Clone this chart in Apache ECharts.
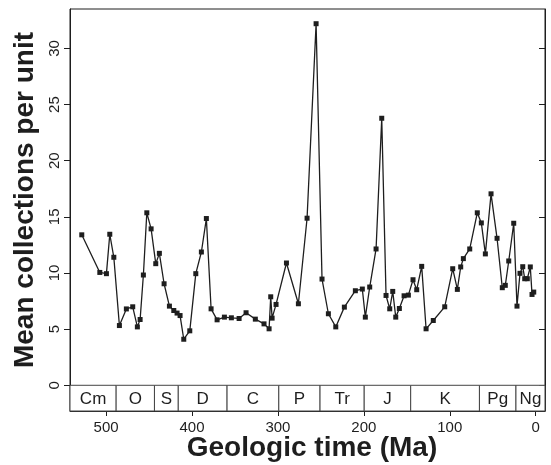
<!DOCTYPE html>
<html>
<head>
<meta charset="utf-8">
<script src="https://cdn.jsdelivr.net/npm/echarts@6/dist/echarts.min.js"></script>
<style>
  html, body { margin: 0; padding: 0; background: #fff; }
  #chart { width: 551px; height: 465px; }
</style>
</head>
<body>
<div id="chart"></div>
<script>
// age of each unit (Ma) and its mean collections
const ages = [528.3, 507.3, 499.6, 495.7, 491.0, 484.5, 476.4, 469.0, 463.6, 460.4,
  456.6, 452.6, 447.6, 442.2, 438.0, 432.5, 426.3, 421.2, 417.4, 413.9,
  409.6, 402.6, 395.6, 389.1, 383.3, 377.8, 370.8, 362.3, 354.2, 345.2,
  337.1, 326.3, 316.2, 310.3, 308.4, 306.8, 302.2, 290.1, 276.2, 266.1,
  255.6, 248.7, 241.3, 232.7, 222.7, 209.9, 201.8, 198.3, 193.2, 185.8,
  179.2, 174.2, 169.9, 166.4, 162.9, 158.7, 153.2, 148.2, 142.8, 138.5,
  132.7, 127.6, 119.2, 105.9, 96.6, 91.2, 87.3, 84.2, 76.8, 68.0,
  63.3, 58.6, 52.0, 45.0, 38.9, 35.4, 31.4, 25.6, 21.8, 18.3,
  15.1, 12.8, 9.8, 6.3, 4.3, 2.3]
const values = [13.4, 10.05, 9.94, 13.45, 11.4, 5.32, 6.8, 6.99, 5.2, 5.86,
  9.82, 15.36, 13.93, 10.83, 11.75, 9.04, 7.05, 6.66, 6.43, 6.21,
  4.1, 4.85, 9.94, 11.87, 14.85, 6.81, 5.83, 6.07, 6.01, 5.95,
  6.46, 5.89, 5.47, 5.03, 7.88, 5.98, 7.2, 10.89, 7.26, 14.88,
  32.2, 9.46, 6.37, 5.2, 6.96, 8.42, 8.57, 6.07, 8.75, 12.14,
  23.78, 8.0, 6.81, 8.36, 6.07, 6.84, 7.97, 8.03, 9.4, 8.51,
  10.59, 5.03, 5.77, 6.99, 10.38, 8.54, 10.54, 11.28, 12.14, 15.36,
  14.46, 11.7, 17.05, 13.09, 8.69, 8.9, 11.07, 14.43, 7.05, 9.97,
  10.56, 9.49, 9.49, 10.54, 8.09, 8.3]

// geologic periods along the bottom strip
const periodNames = ['Cm', 'O', 'S', 'D', 'C', 'P', 'Tr', 'J', 'K', 'Pg', 'Ng']
const periodStarts = [542, 488.3, 443.7, 416, 359.2, 299, 251, 199.6, 145.5, 65.5, 23]

const xTicks = [0, 100, 200, 300, 400, 500]
const yTicks = [0, 5, 10, 15, 20, 25, 30]

const X_MIN = -10.8, X_MAX = 542
const Y_MIN = -2.29, Y_MAX = 33.51
const periodEnds = periodStarts.slice(1).concat([X_MIN])

const FONT = '"Liberation Sans", Arial, Helvetica, sans-serif'
const INK = '#1e1e1e'

const chart = echarts.init(document.getElementById('chart'))

chart.setOption({
  animation: false,
  grid: { left: 70, right: 6, top: 9, bottom: 54, show: true, borderColor: INK, borderWidth: 1 },
  xAxis: {
    type: 'value', inverse: true, min: X_MIN, max: X_MAX,
    splitLine: { show: false },
    axisLine: { onZero: false, lineStyle: { color: INK } },
    axisTick: { customValues: xTicks, length: 5, lineStyle: { color: INK } },
    axisLabel: { customValues: xTicks, fontSize: 15, fontFamily: FONT, color: INK, margin: 9 }
  },
  yAxis: [
    {
      type: 'value', position: 'left', min: Y_MIN, max: Y_MAX,
      splitLine: { show: false },
      axisLine: { show: true, onZero: false, lineStyle: { color: INK } },
      axisTick: { show: true, customValues: yTicks, length: 6, lineStyle: { color: INK } },
      axisLabel: { customValues: yTicks, rotate: 90, fontSize: 15, fontFamily: FONT, color: INK, margin: 8 }
    },
    {
      type: 'value', position: 'right', min: Y_MIN, max: Y_MAX,
      splitLine: { show: false },
      axisLine: { show: true, onZero: false, lineStyle: { color: INK } },
      axisTick: { show: true, inside: true, customValues: yTicks, length: 6, lineStyle: { color: INK } },
      axisLabel: { show: false }
    }
  ],
  series: [
    {
      type: 'custom',
      data: periodStarts.map((s, i) => [s, periodEnds[i]]),
      renderItem: (params, api) => {
        const p0 = api.coord([api.value(0), 0])
        const p1 = api.coord([api.value(1), Y_MIN])
        const x = Math.min(p0[0], p1[0])
        const w = Math.abs(p1[0] - p0[0])
        return {
          type: 'group',
          children: [
            {
              type: 'rect',
              shape: { x: x, y: p0[1], width: w, height: p1[1] - p0[1] },
              style: { fill: '#fff', stroke: '#444', lineWidth: 1 }
            },
            {
              type: 'text',
              style: {
                text: periodNames[params.dataIndex],
                x: x + w / 2, y: (p0[1] + p1[1]) / 2 + 1,
                align: 'center', verticalAlign: 'middle',
                textAlign: 'center', textVerticalAlign: 'middle',
                font: '17px ' + FONT, fill: INK
              }
            }
          ]
        }
      }
    },
    {
      type: 'line',
      data: ages.map((a, i) => [a, values[i]]),
      symbol: 'rect',
      symbolSize: 5,
      itemStyle: { color: INK },
      lineStyle: { color: INK, width: 1.3 }
    }
  ],
  graphic: [
    {
      type: 'text', x: 312, y: 448,
      style: { text: 'Geologic time (Ma)', font: 'bold 28px ' + FONT, fill: INK, align: 'center', verticalAlign: 'middle' }
    },
    {
      type: 'text', x: 25, y: 200, rotation: Math.PI / 2,
      style: { text: 'Mean collections per unit', font: 'bold 28px ' + FONT, fill: INK, align: 'center', verticalAlign: 'middle' }
    }
  ]
})
</script>
</body>
</html>
